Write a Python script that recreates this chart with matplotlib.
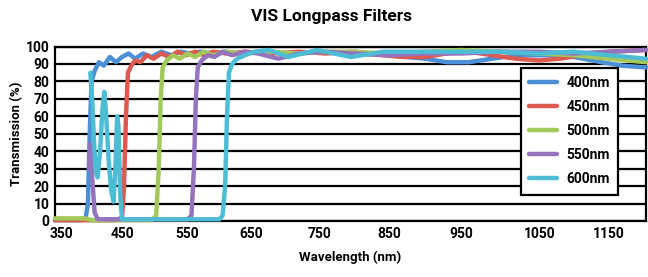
"""VIS longpass filter transmission curves."""
import matplotlib
matplotlib.use("Agg")
import matplotlib.pyplot as plt
import numpy as np

# ---------- data ----------
wl_400 = [340, 380, 390, 394, 397, 400, 405, 412, 420, 430, 440, 450, 460, 470, 482,
          495, 510, 525, 540, 555, 570, 590, 610, 630, 660, 700, 750, 800, 850, 900,
          930, 960, 990, 1020, 1060, 1100, 1140, 1170, 1204]
t_400 = [0.5, 0.5, 1, 10, 50, 80, 86, 91, 89, 94, 91, 94, 96, 93, 96,
         94, 97, 95, 97, 96, 97, 96, 97, 96, 97, 96, 97, 96, 95, 93,
         91, 91, 93, 95, 95, 94, 91, 89, 88]

wl_450 = [340, 440, 450, 453, 456, 459, 464, 470, 478, 488, 498, 510, 522, 535, 548,
          562, 575, 590, 610, 640, 680, 720, 760, 800, 840, 870, 900, 930, 960, 990,
          1020, 1050, 1080, 1110, 1150, 1204]
t_450 = [0.5, 0.5, 2, 20, 60, 85, 89, 92, 91, 95, 93, 96, 94, 97, 95,
         97, 95, 97, 96, 97, 96, 97, 96, 97, 95, 94, 94, 96, 97, 95,
         93, 92, 93, 95, 97, 98]

wl_500 = [340, 390, 400, 495, 502, 506, 509, 512, 518, 528, 538, 550, 562, 575, 590,
          610, 640, 680, 720, 760, 800, 850, 900, 950, 1000, 1050, 1100, 1150, 1204]
t_500 = [1.5, 1.5, 0.5, 0.5, 3, 30, 70, 88, 92, 95, 93, 96, 94, 97, 95,
         97, 96, 97, 96, 97, 97, 96, 97, 98, 97, 96, 95, 93, 91]

wl_550 = [396, 398, 401, 405, 410, 550, 556, 560, 563, 566, 572, 582, 592, 605, 620,
          640, 660, 690, 720, 760, 800, 850, 900, 950, 1000, 1050, 1100, 1150, 1204]
t_550 = [30, 44, 25, 5, 1, 1, 3, 30, 70, 88, 92, 95, 94, 97, 95,
         97, 96, 93, 96, 97, 96, 95, 96, 96, 97, 97, 96, 97, 98]

wl_600 = [398, 401, 404, 407, 410, 414, 418, 421, 424, 428, 432, 436, 439, 442, 444,
          447, 450, 600, 605, 609, 612, 615, 620, 628, 640, 655, 676, 705, 747, 795,
          842, 880, 920, 960, 1000, 1050, 1100, 1150, 1204]
t_600 = [85, 70, 45, 28, 25, 40, 65, 74, 60, 35, 18, 11, 30, 60, 55,
         15, 1, 1, 3, 20, 60, 85, 90, 93, 95, 97, 98, 94, 98, 94,
         97, 97, 97, 97, 97, 96, 97, 95, 93]

series = [("400nm", wl_400, t_400, "#4b8fd6"),
          ("450nm", wl_450, t_450, "#dc5a4f"),
          ("500nm", wl_500, t_500, "#a3c95b"),
          ("550nm", wl_550, t_550, "#9474bd"),
          ("600nm", wl_600, t_600, "#4dbdd6")]

x_ticks = [350, 450, 550, 650, 750, 850, 950, 1050, 1150]
y_ticks = list(range(0, 101, 10))

# the original axis is not quite linear: calibrate tick spacing
_cal_wl = [300, 350, 450, 550, 650, 750, 850, 950, 1050, 1150, 1250]
_cal_px = [30.2, 60.7, 121.7, 187.3, 251.0, 318.9, 389.4, 461.0, 539.3, 608.7, 678.1]


def _fwd(x):
    return np.interp(x, _cal_wl, _cal_px)


def _inv(p):
    return np.interp(p, _cal_px, _cal_wl)


FONT = dict(family=["Roboto", "DejaVu Sans"], weight="bold")

fig = plt.figure(figsize=(6.48, 2.77), dpi=100)
ax = fig.add_axes([55 / 648, 1 - 221 / 277, 591 / 648, 174.5 / 277])
ax.set_xscale("function", functions=(_fwd, _inv))

for ylev in y_ticks:
    ax.axhline(ylev, color="black", lw=1.6, zorder=1)

for label, x, y, c in series:
    ax.plot(x, y, color=c, lw=3.2, label=label, zorder=3, clip_on=False,
            solid_capstyle="round", solid_joinstyle="round")

ax.set_xlim(340, 1204)
ax.set_ylim(0, 100)
ax.set_xticks(x_ticks)
ax.set_xticklabels([str(v) for v in x_ticks])
ax.set_yticks(y_ticks)
ax.xaxis.set_minor_locator(matplotlib.ticker.NullLocator())
ax.tick_params(length=0, pad=4)
for lab in ax.get_xticklabels() + ax.get_yticklabels():
    lab.set(fontsize=10, **FONT)
for s in ax.spines.values():
    s.set_linewidth(1.6)
    s.set_color("black")

ax.set_xlabel("Wavelength (nm)", fontsize=9.5, labelpad=7, **FONT)
ax.set_ylabel("Transmission (%)", fontsize=9.5, labelpad=2, **FONT)
fig.text(331 / 648, 1 - 17 / 277, "VIS Longpass Filters", ha="center", va="center",
         fontsize=12.5, **FONT)

leg = ax.legend(loc="upper left", bbox_to_anchor=(0.788, 0.877),
                prop=dict(size=10, **FONT),
                frameon=True, fancybox=False, edgecolor="black", framealpha=1,
                handlelength=2.0, handletextpad=0.7, labelspacing=0.72,
                borderpad=0.6, borderaxespad=0)
leg.get_frame().set_linewidth(1.6)
leg.set_zorder(5)

fig.savefig("out.png", dpi=100)
